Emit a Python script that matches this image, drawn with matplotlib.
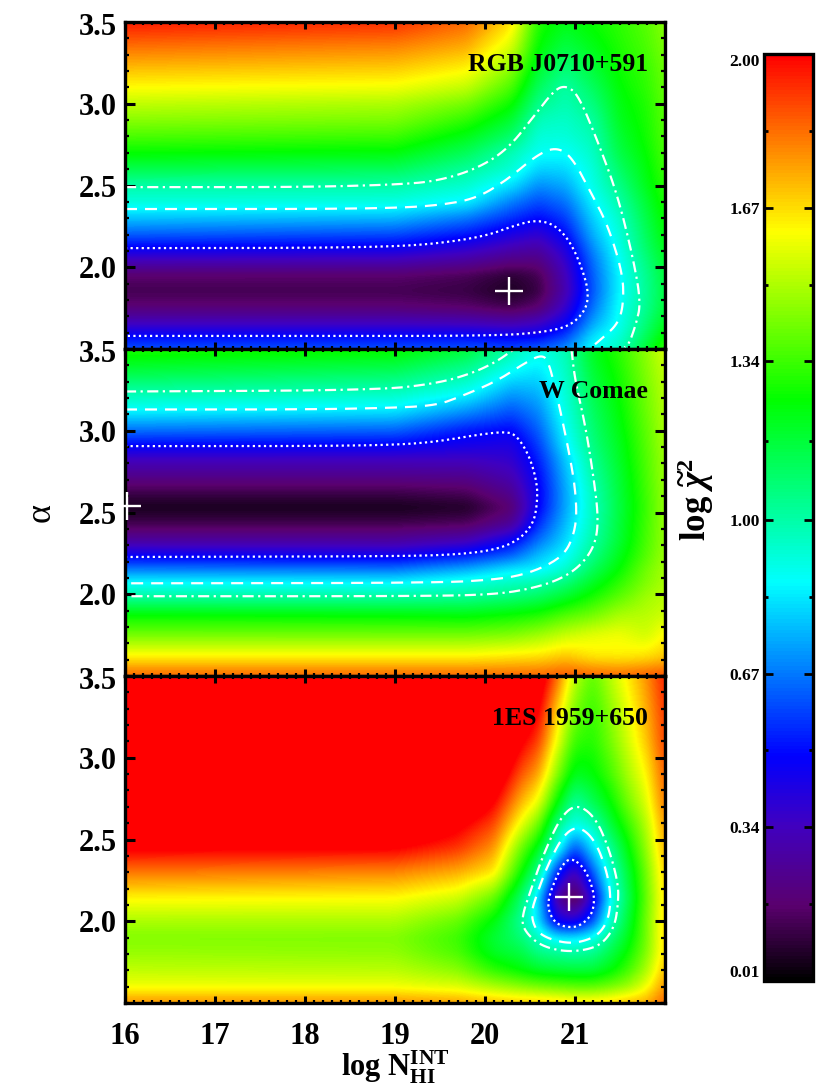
import matplotlib; matplotlib.use('Agg')
import matplotlib.pyplot as plt
import numpy as np
from matplotlib.colors import LinearSegmentedColormap, Normalize
from matplotlib.cm import ScalarMappable

plt.rcParams['font.family'] = ['Liberation Serif', 'DejaVu Serif']
plt.rcParams['font.weight'] = 'bold'
plt.rcParams['mathtext.fontset'] = 'custom'
plt.rcParams['mathtext.rm'] = 'Liberation Serif:bold'
plt.rcParams['mathtext.it'] = 'Liberation Serif:italic:bold'
plt.rcParams['mathtext.bf'] = 'Liberation Serif:bold'

VMIN, VMAX = 0.01, 2.0
names = ['RGB J0710+591', 'W Comae', '1ES 1959+650']
xticks = [16, 17, 18, 19, 20, 21]
yticks = [2.0, 2.5, 3.0, 3.5]
cb_ticks = [0.01, 0.34, 0.67, 1.00, 1.34, 1.67, 2.00]
cb_minor = [0.175, 0.505, 0.835, 1.17, 1.505, 1.835]

# panel 1, one row per alpha, one column per log N
x1 = [16, 19, 19.8, 20.3, 20.6, 20.9, 21.2, 21.5, 21.8, 22]
y1 = [1.5, 1.58, 1.65, 1.75, 1.85, 1.95, 2.05, 2.12, 2.2, 2.3, 2.4, 2.5, 2.6, 2.7, 2.8, 2.9, 3.0, 3.1, 3.2, 3.35, 3.5]
z1 = [
    [.62, .62, .62, .60, .64, .70, .88, .96, 1.18, 1.33],
    [.49, .49, .49, .47, .47, .58, .82, .92, 1.12, 1.27],
    [.35, .35, .34, .32, .36, .48, .74, .89, 1.08, 1.22],
    [.19, .19, .17, .13, .18, .37, .66, .88, 1.04, 1.17],
    [.13, .13, .11, .06, .11, .31, .62, .86, 1.03, 1.16],
    [.17, .17, .14, .09, .13, .33, .63, .86, 1.04, 1.17],
    [.35, .34, .29, .23, .22, .38, .66, .88, 1.07, 1.20],
    [.49, .47, .40, .32, .29, .43, .70, .90, 1.10, 1.22],
    [.63, .60, .52, .43, .38, .50, .75, .92, 1.12, 1.25],
    [.78, .76, .67, .56, .50, .58, .80, .95, 1.15, 1.27],
    [.92, .91, .85, .68, .60, .66, .85, 1.00, 1.18, 1.30],
    [1.00, 1.00, .94, .82, .70, .74, .90, 1.05, 1.22, 1.32],
    [1.14, 1.12, 1.02, .93, .80, .81, .92, 1.10, 1.24, 1.34],
    [1.26, 1.24, 1.12, .98, .88, .87, .95, 1.15, 1.26, 1.36],
    [1.36, 1.34, 1.22, 1.09, .92, .92, .98, 1.18, 1.28, 1.37],
    [1.45, 1.43, 1.32, 1.18, .97, .95, 1.01, 1.21, 1.29, 1.38],
    [1.53, 1.50, 1.42, 1.27, 1.04, .98, 1.06, 1.23, 1.30, 1.39],
    [1.62, 1.60, 1.53, 1.36, 1.11, 1.00, 1.11, 1.25, 1.32, 1.40],
    [1.70, 1.68, 1.62, 1.44, 1.17, 1.06, 1.16, 1.27, 1.33, 1.41],
    [1.83, 1.80, 1.74, 1.56, 1.25, 1.15, 1.22, 1.30, 1.36, 1.43],
    [1.96, 1.93, 1.84, 1.66, 1.30, 1.22, 1.27, 1.32, 1.38, 1.45],
]

# panel 2
x2 = [16, 19, 19.8, 20.3, 20.6, 20.9, 21.2, 21.5, 21.8, 22]
y2 = [1.5, 1.62, 1.75, 1.87, 1.99, 2.07, 2.15, 2.23, 2.33, 2.43, 2.53, 2.63, 2.73, 2.83, 2.91, 3.0, 3.13, 3.24, 3.35, 3.5]
z2 = [
    [1.85, 1.85, 1.85, 1.85, 1.85, 1.87, 1.85, 1.84, 1.86, 1.88],
    [1.63, 1.63, 1.63, 1.65, 1.66, 1.70, 1.65, 1.64, 1.66, 1.70],
    [1.42, 1.42, 1.42, 1.44, 1.48, 1.54, 1.58, 1.60, 1.55, 1.63],
    [1.26, 1.25, 1.24, 1.27, 1.30, 1.37, 1.42, 1.50, 1.52, 1.55],
    [1.00, 1.00, 1.02, 1.06, 1.10, 1.18, 1.28, 1.38, 1.48, 1.52],
    [.87, .86, .92, .96, .99, 1.07, 1.20, 1.32, 1.44, 1.50],
    [.68, .67, .75, .84, .85, .94, 1.12, 1.26, 1.42, 1.49],
    [.49, .47, .55, .65, .78, .87, 1.05, 1.22, 1.38, 1.48],
    [.27, .27, .32, .47, .66, .81, 1.00, 1.18, 1.36, 1.47],
    [.13, .13, .15, .26, .56, .77, .97, 1.17, 1.35, 1.47],
    [.05, .05, .07, .18, .49, .74, .96, 1.16, 1.34, 1.47],
    [.13, .13, .15, .25, .48, .74, .97, 1.17, 1.35, 1.47],
    [.24, .24, .25, .32, .50, .76, 1.00, 1.18, 1.36, 1.48],
    [.35, .35, .35, .38, .54, .79, 1.03, 1.20, 1.37, 1.48],
    [.49, .48, .44, .42, .58, .84, 1.06, 1.21, 1.38, 1.49],
    [.65, .63, .52, .49, .63, .87, 1.08, 1.23, 1.39, 1.50],
    [.87, .84, .72, .62, .70, .91, 1.11, 1.25, 1.41, 1.51],
    [1.00, .97, .88, .73, .76, .93, 1.14, 1.27, 1.42, 1.52],
    [1.14, 1.10, 1.00, .85, .82, .95, 1.17, 1.29, 1.44, 1.53],
    [1.30, 1.27, 1.17, 1.00, .90, .98, 1.21, 1.32, 1.46, 1.56],
]

# panel 3, values above 2 are saturated red in the picture
x3 = [16, 19, 19.7, 20.1, 20.4, 20.6, 20.8, 21.0, 21.2, 21.4, 21.6, 21.8, 22]
y3 = [1.5, 1.6, 1.7, 1.81, 1.9, 2.0, 2.14, 2.3, 2.45, 2.6, 2.72, 2.9, 3.1, 3.3, 3.5]
z3 = [
    [1.78, 1.78, 1.76, 1.72, 1.70, 1.70, 1.68, 1.66, 1.66, 1.68, 1.72, 1.74, 1.85],
    [1.60, 1.60, 1.57, 1.50, 1.45, 1.42, 1.40, 1.38, 1.38, 1.42, 1.48, 1.60, 1.78],
    [1.53, 1.52, 1.45, 1.32, 1.25, 1.20, 1.18, 1.17, 1.17, 1.24, 1.35, 1.50, 1.72],
    [1.47, 1.46, 1.36, 1.20, 1.15, 1.05, 1.02, 1.00, 1.03, 1.14, 1.27, 1.44, 1.68],
    [1.44, 1.44, 1.34, 1.18, 1.08, .95, .83, .82, .88, 1.06, 1.22, 1.42, 1.68],
    [1.50, 1.50, 1.40, 1.24, 1.03, .82, .45, .42, .60, .95, 1.18, 1.42, 1.68],
    [1.63, 1.62, 1.55, 1.40, 1.10, .80, .28, .10, .42, .87, 1.14, 1.40, 1.67],
    [1.82, 1.80, 1.74, 1.65, 1.28, 1.03, .55, .32, .62, .93, 1.18, 1.42, 1.70],
    [2.02, 2.01, 1.92, 1.78, 1.42, 1.22, .92, .60, .82, 1.03, 1.25, 1.47, 1.74],
    [2.20, 2.20, 2.04, 1.90, 1.60, 1.42, 1.07, .90, .97, 1.17, 1.34, 1.52, 1.78],
    [2.30, 2.30, 2.20, 2.00, 1.72, 1.58, 1.25, 1.00, 1.12, 1.25, 1.42, 1.57, 1.82],
    [2.40, 2.40, 2.35, 2.15, 1.87, 1.75, 1.45, 1.20, 1.24, 1.35, 1.50, 1.63, 1.86],
    [2.50, 2.50, 2.45, 2.30, 2.02, 1.90, 1.60, 1.33, 1.30, 1.42, 1.56, 1.70, 1.90],
    [2.60, 2.60, 2.55, 2.45, 2.15, 2.02, 1.70, 1.43, 1.33, 1.46, 1.60, 1.74, 1.92],
    [2.70, 2.70, 2.65, 2.55, 2.25, 2.10, 1.85, 1.52, 1.38, 1.52, 1.65, 1.78, 1.95],
]

# contour lines
dot1_x = [16, 18, 19, 19.5, 20, 20.3, 20.56, 20.78, 20.96, 21.1, 21.15, 21.12, 20.96, 20.69, 20.12, 18, 16]
dot1_y = [2.117, 2.118, 2.127, 2.147, 2.19, 2.25, 2.29, 2.26, 2.147, 1.96, 1.84, 1.74, 1.646, 1.605, 1.58, 1.58, 1.58]
dash1_x = [16, 18, 19, 19.5, 19.9, 20.25, 20.56, 20.78, 20.96, 21.18, 21.37, 21.53, 21.54, 21.48, 21.3, 21.18]
dash1_y = [2.356, 2.356, 2.362, 2.38, 2.42, 2.536, 2.68, 2.736, 2.68, 2.454, 2.25, 1.96, 1.78, 1.656, 1.564, 1.51]
ddot1_x = [16, 18, 19, 19.46, 19.9, 20.25, 20.56, 20.78, 20.91, 21.04, 21.26, 21.48, 21.66, 21.73, 21.68, 21.6, 21.55]
ddot1_y = [2.49, 2.49, 2.505, 2.526, 2.6, 2.72, 2.935, 3.09, 3.11, 3.05, 2.76, 2.43, 2.02, 1.78, 1.656, 1.53, 1.51]

dot2_x = [16, 18, 19, 19.46, 19.9, 20.2, 20.34, 20.49, 20.58, 20.58, 20.54, 20.38, 20.12, 19.68, 19, 16]
dot2_y = [2.906, 2.906, 2.913, 2.933, 2.974, 2.994, 2.98, 2.852, 2.68, 2.557, 2.435, 2.333, 2.272, 2.242, 2.232, 2.228]
dash2_x = [16, 18, 19, 19.46, 19.72, 20.12, 20.43, 20.63, 20.71, 20.82, 20.93, 21, 21.02, 20.98, 20.89, 20.71, 20.43, 20.12, 19.46, 16]
dash2_y = [3.13, 3.13, 3.14, 3.156, 3.207, 3.3, 3.41, 3.467, 3.42, 3.167, 2.88, 2.66, 2.476, 2.354, 2.252, 2.18, 2.12, 2.09, 2.069, 2.067]
ddot2a_x = [16, 18.8, 19.46, 19.85, 20.12, 20.3, 20.34]
ddot2a_y = [3.24, 3.248, 3.289, 3.35, 3.42, 3.49, 3.5]
ddot2b_x = [20.96, 21, 21.11, 21.2, 21.26, 21.23, 21.09, 20.87, 20.56, 20.12, 19.24, 16]
ddot2b_y = [3.5, 3.31, 3.045, 2.74, 2.476, 2.313, 2.19, 2.1, 2.04, 1.998, 1.988, 1.988]

dot3_x = [20.96, 21.09, 21.18, 21.22, 21.18, 21.04, 20.91, 20.78, 20.7, 20.71, 20.78, 20.87, 20.96]
dot3_y = [2.386, 2.335, 2.233, 2.13, 2.03, 1.967, 1.963, 1.988, 2.07, 2.15, 2.253, 2.355, 2.386]
dash3_x = [21.04, 21.22, 21.35, 21.4, 21.37, 21.26, 21.09, 20.91, 20.69, 20.56, 20.51, 20.58, 20.69, 20.87, 21.04]
dash3_y = [2.584, 2.498, 2.314, 2.151, 2.008, 1.916, 1.876, 1.865, 1.896, 1.947, 2.05, 2.171, 2.335, 2.529, 2.584]
ddot3_x = [21.02, 21.22, 21.37, 21.48, 21.48, 21.44, 21.31, 21.13, 20.87, 20.6, 20.43, 20.41, 20.51, 20.64, 20.84, 21.02]
ddot3_y = [2.718, 2.64, 2.457, 2.233, 2.11, 1.967, 1.865, 1.824, 1.814, 1.855, 1.947, 2.029, 2.192, 2.396, 2.64, 2.718]

best_x = [20.27, 16.02, 20.93]
best_y = [1.857, 2.537, 2.147]


def round_off(px, py, n=3):
    # corner cutting so the read polylines do not look kinked
    p = np.column_stack([px, py])
    closed = np.allclose(p[0], p[-1])
    for _ in range(n):
        q = .75*p[:-1]+.25*p[1:]
        r = .25*p[:-1]+.75*p[1:]
        m = np.empty((2*len(q), 2)); m[0::2] = q; m[1::2] = r
        if closed:
            p = np.vstack([m, m[:1]])
        else:
            p = np.vstack([p[:1], m, p[-1:]])
    return p[:, 0], p[:, 1]


def raster(xg, yg, zg, nx=540, ny=327, sx=5, sy=4):
    # same job as imshow(interpolation=...), but the grid here is not uniform
    xf = np.linspace(16, 22, nx); yf = np.linspace(1.5, 3.5, ny)
    z = np.array(zg)
    z = np.array([np.interp(yf, yg, c) for c in z.T]).T
    z = np.array([np.interp(xf, xg, r) for r in z])
    for axis, s in ((1, sx), (0, sy)):
        k = np.exp(-.5*(np.arange(-3*s, 3*s+1)/s)**2); k /= k.sum()
        pad = [(0, 0), (0, 0)]; pad[axis] = (3*s, 3*s)
        z = np.apply_along_axis(lambda v: np.convolve(v, k, 'valid'), axis, np.pad(z, pad, mode='edge'))
    return z


cmap = LinearSegmentedColormap.from_list('rainbow_black', [
    (0.0, '#000000'), (0.08, '#5a006e'), (0.167, '#4000c0'), (0.242, '#0000ff'),
    (0.43, '#00ffff'), (0.627, '#00ff00'), (0.81, '#ffff00'), (1.0, '#ff0000')], N=256)
cmap.set_over('#ff0000')
norm = Normalize(VMIN, VMAX)

W, H = 830, 1090
fig = plt.figure(figsize=(W/100, H/100), dpi=100)
tops = [22, 349, 676]
grids = [(x1, y1, z1), (x2, y2, z2), (x3, y3, z3)]
lines = [[(dot1_x, dot1_y, ':'), (dash1_x, dash1_y, '--'), (ddot1_x, ddot1_y, '-.')],
         [(dot2_x, dot2_y, ':'), (dash2_x, dash2_y, '--'), (ddot2a_x, ddot2a_y, '-.'), (ddot2b_x, ddot2b_y, '-.')],
         [(dot3_x, dot3_y, ':'), (dash3_x, dash3_y, '--'), (ddot3_x, ddot3_y, '-.')]]
styles = {':': (0, (1, 1.5)), '--': (0, (5.4, 3.6)), '-.': (0, (5, 2, 1, 2))}
label_y = [3.24, 3.24, 3.24]

for i in range(3):
    ax = fig.add_axes([125/W, 1-(tops[i]+327)/H, 540/W, 327/H])
    xg, yg, zg = grids[i]
    ax.imshow(raster(xg, yg, zg), extent=[16, 22, 1.5, 3.5], origin='lower', aspect='auto',
              cmap=cmap, norm=norm, interpolation='nearest')
    for lx, ly, st in lines[i]:
        sx, sy = round_off(lx, ly)
        ax.plot(sx, sy, color='white', lw=1.6, ls=styles[st])
    ax.plot(best_x[i], best_y[i], marker='+', ms=20, mew=1.7, color='white', clip_on=False, zorder=5)
    ax.set_xlim(16, 22)
    ax.set_ylim(1.5, 3.5)
    ax.set_xticks(xticks)
    ax.set_xticks(np.arange(16, 22.01, 0.1), minor=True)
    ax.set_yticks(yticks)
    ax.set_yticks(np.arange(1.5, 3.51, 0.1), minor=True)
    # top label sits a little below its tick, so it is placed by hand
    ax.set_yticklabels(['%.1f' % v for v in yticks[:-1]]+[''])
    ax.annotate('%.1f' % yticks[-1], xy=(0, yticks[-1]), xycoords=('axes fraction', 'data'), xytext=(-6, -4.3),
                textcoords='offset points', ha='right', va='center', fontsize=22)
    ax.tick_params(which='both', direction='in', top=True, right=True)
    ax.tick_params(axis='x', which='major', length=5, width=2.2, labelsize=22, pad=14)
    ax.tick_params(axis='y', which='major', length=7, width=2.2, labelsize=22, pad=6)
    ax.tick_params(axis='x', which='minor', length=2, width=1.6)
    ax.tick_params(axis='y', which='minor', length=3, width=1.6)
    for s in ax.spines.values():
        s.set_linewidth(2.4)
    ax.text(21.81, label_y[i], names[i], ha='right', va='center', fontsize=18.5, color='black')
    if i < 2:
        ax.tick_params(labelbottom=False)
    if i == 1:
        ax.set_ylabel('α', fontsize=26)
        ax.yaxis.set_label_coords(-0.125, .5)
    if i == 2:
        ax.set_xlabel(r'log N$_{\rm HI}^{\rm INT}$', fontsize=22, fontweight='bold', labelpad=-2)

cax = fig.add_axes([764/W, 1-981/H, 49/W, 927/H])
cb = fig.colorbar(ScalarMappable(norm=norm, cmap=cmap), cax=cax)
cb.set_ticks(cb_ticks)
cb.set_ticklabels(['%.2f' % v for v in cb_ticks])
cb.ax.set_yticks(cb_minor, minor=True)
cb.ax.tick_params(which='major', direction='in', left=True, right=True, labelleft=True, labelright=False, length=6.5, width=2, labelsize=12.5, pad=3)
cb.ax.tick_params(which='minor', direction='in', left=True, right=True, length=3, width=2)
cb.ax.get_yticklabels()[0].set_va('bottom')
cb.ax.get_yticklabels()[-1].set_va('top')
cb.outline.set_linewidth(2.4)
fig.text(696/W, 1-500/H, r'log $\widetilde{\chi}^2$', rotation=90, fontsize=25, ha='center', va='center')

plt.savefig('out.png', dpi=100)
plt.close()
